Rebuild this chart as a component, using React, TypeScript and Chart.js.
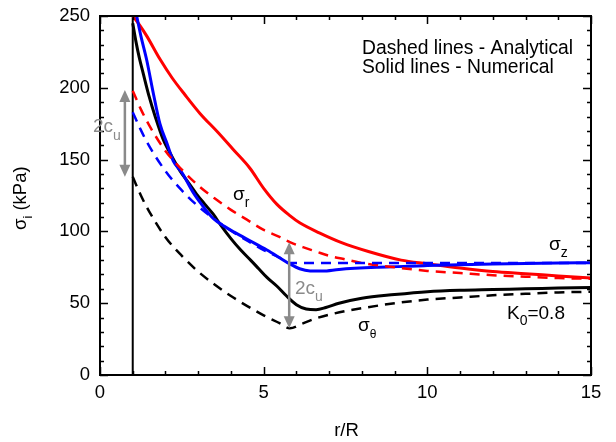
import React, { useEffect, useRef } from "react";
import { Chart, registerables } from "chart.js";

Chart.register(...registerables);

const xTickStep = 5;
const yTickStep = 50;

const thetaNumX = [1.0, 1.1, 1.2, 1.32, 1.5, 1.7, 1.93, 2.2, 2.45, 2.7, 2.95, 3.2, 3.46, 3.7, 4.0, 4.3, 4.6, 4.85, 5.1, 5.4, 5.7, 6.0, 6.3, 6.6, 6.9, 7.3, 8.0, 9.0, 10.0, 11.0, 12.0, 13.0, 14.0, 15.0];
const thetaNumY = [245, 232, 221, 210, 194, 179, 164, 152, 142, 134, 126, 119, 112, 104, 95, 87, 80, 74, 68, 62, 55, 49, 46, 45.5, 47, 50, 53.5, 56, 58, 59, 59.5, 60, 60.5, 61];

const zNumX = [1.12, 1.25, 1.43, 1.63, 1.83, 2.05, 2.24, 2.5, 2.85, 3.1, 3.46, 3.8, 4.1, 4.5, 5.1, 5.5, 5.8, 6.1, 6.42, 6.8, 7.3, 8.5, 10, 11, 12, 13, 14, 15];
const zNumY = [250, 236, 219, 196, 175, 161, 149, 141, 127, 119, 109, 103.5, 99.5, 94.5, 87, 81.5, 77.3, 74, 72.5, 72.4, 73.5, 75, 76.2, 76.8, 77.3, 77.7, 78, 78.2];

const rNumX = [1.02, 1.2, 1.43, 1.83, 2.2, 2.6, 3.06, 3.6, 4.07, 4.58, 5.0, 5.4, 5.8, 6.1, 6.7, 7.4, 8.2, 9.2, 10.0, 11, 12, 13, 14, 15];
const rNumY = [249.5, 244, 236, 220, 207, 195, 182, 169, 157, 144, 130, 119, 111, 106, 99, 92, 86, 80, 77.5, 74.5, 72, 70.5, 69, 67.5];

const rAnaX = [1, 1.25, 1.5, 2, 2.5, 3, 3.5, 4, 4.5, 5, 5.5, 5.8, 6.2, 6.6, 7, 7.5, 8, 9, 10, 11, 12, 13, 14, 15];
const rAnaY = [198, 185, 174, 156, 143, 132, 123, 115, 108, 101, 96, 92.5, 89, 86, 83, 80.5, 78, 75, 72.5, 71, 69.5, 68.5, 67.5, 67];

const thetaAnaX = [1, 1.25, 1.5, 2, 2.5, 3, 3.5, 4, 4.5, 5, 5.5, 5.8, 6.2, 6.6, 7, 7.5, 8, 9, 10, 11, 12, 13, 14, 15];
const thetaAnaY = [138, 125, 114, 96, 83, 72, 63, 55, 48, 41.5, 36, 32.5, 36, 39.5, 42, 44.5, 46.5, 50, 52.5, 54, 55.5, 56.5, 57.5, 58];

const zAnaX = [1, 1.25, 1.5, 2, 2.5, 3, 3.5, 4, 4.5, 5, 5.5, 5.8, 15];
const zAnaY = [183, 170.5, 159.5, 142, 128.5, 117.5, 108.5, 100.5, 93.5, 87, 81.5, 78, 78];

const wallX = [1, 1];
const wallY = [0, 250];

const arrow1 = [0.76, 138, 198.5];
const arrow2 = [5.78, 32.5, 92.5];

const FONT = "'Liberation Sans', Arial, Helvetica, sans-serif";
const GRAY = "#8a8a8a";

function pts(xs: number[], ys: number[]) {
  return xs.map((x, i) => ({ x, y: ys[i] }));
}

function drawSub(
  ctx: CanvasRenderingContext2D,
  base: string,
  sub: string,
  x: number,
  y: number,
  size: number,
  subSize: number,
  dy: number,
  color: string,
  after?: string
) {
  ctx.fillStyle = color;
  ctx.textAlign = "left";
  ctx.textBaseline = "alphabetic";
  ctx.font = `${size}px ${FONT}`;
  ctx.fillText(base, x, y);
  const w = ctx.measureText(base).width;
  ctx.font = `${subSize}px ${FONT}`;
  ctx.fillText(sub, x + w, y + dy);
  const w2 = ctx.measureText(sub).width;
  if (after) {
    ctx.font = `${size}px ${FONT}`;
    ctx.fillText(after, x + w + w2, y);
  }
}

const framePlugin = {
  id: "frameAndNotes",
  afterDraw(chart: any) {
    const ctx: CanvasRenderingContext2D = chart.ctx;
    const { left, right, top, bottom } = chart.chartArea;
    const xs = chart.scales.x;
    const ys = chart.scales.y;
    ctx.save();

    const drawArrow = (a: number[]) => {
      const px = xs.getPixelForValue(a[0]);
      const p1 = ys.getPixelForValue(a[1]);
      const p2 = ys.getPixelForValue(a[2]);
      const hl = 12;
      const hw = 5.5;
      ctx.strokeStyle = GRAY;
      ctx.fillStyle = GRAY;
      ctx.lineWidth = 2.5;
      ctx.beginPath();
      ctx.moveTo(px, p2 + hl - 1);
      ctx.lineTo(px, p1 - hl + 1);
      ctx.stroke();
      ctx.beginPath();
      ctx.moveTo(px, p2);
      ctx.lineTo(px - hw, p2 + hl);
      ctx.lineTo(px + hw, p2 + hl);
      ctx.closePath();
      ctx.fill();
      ctx.beginPath();
      ctx.moveTo(px, p1);
      ctx.lineTo(px - hw, p1 - hl);
      ctx.lineTo(px + hw, p1 - hl);
      ctx.closePath();
      ctx.fill();
    };
    drawArrow(arrow1);
    drawArrow(arrow2);

    ctx.strokeStyle = "#000";
    ctx.lineWidth = 2;
    ctx.strokeRect(left, top, right - left, bottom - top);

    ctx.lineWidth = 1.5;
    ctx.beginPath();
    for (let v = 0; v <= 15; v += 1) {
      const px = Math.round(xs.getPixelForValue(v)) + 0.5;
      const len = v % xTickStep === 0 ? 8 : 4;
      ctx.moveTo(px, bottom);
      ctx.lineTo(px, bottom - len);
      ctx.moveTo(px, top);
      ctx.lineTo(px, top + len);
    }
    for (let v = 0; v <= 250; v += 10) {
      const py = Math.round(ys.getPixelForValue(v)) + 0.5;
      const len = v % yTickStep === 0 ? 8 : 4;
      ctx.moveTo(left, py);
      ctx.lineTo(left + len, py);
      ctx.moveTo(right, py);
      ctx.lineTo(right - len, py);
    }
    ctx.stroke();

    ctx.fillStyle = "#000";
    ctx.textAlign = "left";
    ctx.textBaseline = "alphabetic";
    ctx.font = `19.3px ${FONT}`;
    ctx.fillText("Dashed lines - Analytical", 362, 53.5);
    ctx.fillText("Solid lines - Numerical", 362, 73);

    drawSub(ctx, "2c", "u", 93, 132, 19, 14, 8, GRAY);
    drawSub(ctx, "2c", "u", 295, 293.5, 19, 14, 7, GRAY);
    drawSub(ctx, "σ", "r", 233, 200, 19, 14, 7, "#000");
    drawSub(ctx, "σ", "z", 549, 250, 19, 14, 7, "#000");
    drawSub(ctx, "σ", "θ", 358, 330.5, 19, 12, 7.5, "#000");
    drawSub(ctx, "K", "0", 507, 319, 19, 14, 6, "#000", "=0.8");

    ctx.font = `18.5px ${FONT}`;
    ctx.textAlign = "center";
    ctx.fillText("r/R", 346.5, 436);

    ctx.save();
    ctx.translate(26, 230);
    ctx.rotate(-Math.PI / 2);
    drawSub(ctx, "σ", "i", 0, 0, 18.5, 13, 6, "#000", " (kPa)");
    ctx.restore();

    ctx.restore();
  },
};

export default function App() {
  const ref = useRef<HTMLCanvasElement | null>(null);
  useEffect(() => {
    if (!ref.current) return;
    const solid = (data: any, color: string) => ({
      data,
      borderColor: color,
      borderWidth: 3,
      pointRadius: 0,
      fill: false,
      cubicInterpolationMode: "monotone" as const,
    });
    const dashed = (data: any, color: string) => ({
      data,
      borderColor: color,
      borderWidth: 2.5,
      borderDash: [10, 7],
      pointRadius: 0,
      fill: false,
      cubicInterpolationMode: "monotone" as const,
    });
    const chart = new Chart(ref.current, {
      type: "line",
      data: {
        datasets: [
          dashed(pts(zAnaX, zAnaY), "#0000ff"),
          dashed(pts(rAnaX, rAnaY), "#ff0000"),
          dashed(pts(thetaAnaX, thetaAnaY), "#000000"),
          solid(pts(zNumX, zNumY), "#0000ff"),
          solid(pts(rNumX, rNumY), "#ff0000"),
          solid(pts(thetaNumX, thetaNumY), "#000000"),
          {
            data: pts(wallX, wallY),
            borderColor: "#000",
            borderWidth: 2,
            pointRadius: 0,
            fill: false,
          },
        ] as any,
      },
      options: {
        responsive: false,
        animation: false,
        layout: { padding: { left: 0, right: 25, top: 16, bottom: 0 } },
        plugins: {
          legend: { display: false },
          tooltip: { enabled: false },
          title: { display: false },
        },
        scales: {
          x: {
            type: "linear",
            min: 0,
            max: 15,
            ticks: {
              stepSize: xTickStep,
              color: "#000",
              padding: 7,
              maxRotation: 0,
              font: { family: FONT, size: 18.5 },
            },
            grid: { display: false, drawTicks: false },
            border: { display: false },
            afterFit: (s: any) => {
              s.height = 67;
              s.paddingLeft = 0;
              s.paddingRight = 0;
            },
          },
          y: {
            type: "linear",
            min: 0,
            max: 250,
            ticks: {
              stepSize: yTickStep,
              color: "#000",
              padding: 10,
              font: { family: FONT, size: 18.5 },
            },
            grid: { display: false, drawTicks: false },
            border: { display: false },
            afterFit: (s: any) => {
              s.width = 100;
              s.paddingTop = 0;
              s.paddingBottom = 0;
            },
          },
        },
      } as any,
      plugins: [framePlugin],
    });
    return () => chart.destroy();
  }, []);
  return (
    <div style={{ position: "absolute", left: 0, top: 0, width: 616, height: 442, background: "#fff" }}>
      <canvas ref={ref} width={616} height={442} style={{ display: "block" }} />
    </div>
  );
}
